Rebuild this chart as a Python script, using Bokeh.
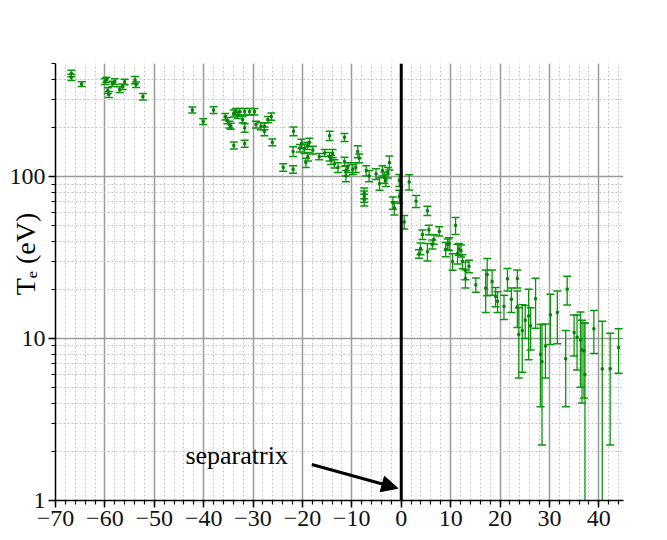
import numpy as np
from bokeh.plotting import figure
from bokeh.models import (ColumnDataSource, Whisker, TeeHead, Span, Label, Arrow,
                          NormalHead, FixedTicker, Range1d, BasicTickFormatter)
from bokeh.embed import file_html
from bokeh.resources import INLINE

# Radial position relative to the separatrix (mm) and electron temperature (eV)
r_mm = [
    -66.8, -66.8, -64.7, -60.0, -59.7, -59.4, -59.2, -58.5, -58.0, -57.0, -56.4, -56.0,
    -53.9, -53.7, -52.3,
    -42.3, -40.1, -38.0, -35.6, -35.2, -34.8, -34.5, -33.9, -33.9, -33.5, -33.1, -32.7,
    -32.1, -31.7, -31.7, -31.7, -30.7, -29.7, -29.4, -28.4, -27.7, -27.7, -27.0, -26.3,
    -26.1,
    -23.9, -21.9, -21.8, -21.9, -20.5, -20.2, -19.6, -19.3, -19.0, -18.9, -18.6, -17.9,
    -16.6, -15.5, -14.5, -14.5, -14.2, -13.9, -13.5, -12.8,
    -11.5, -11.5, -11.2, -11.2, -10.8, -9.8, -9.2, -8.8, -8.5, -7.5, -7.5, -7.5, -7.1,
    -6.5, -5.1, -4.4, -3.8, -3.4, -3.1, -2.7, -2.4, -1.7, -1.4, -0.4, -0.4,
    0.6, 1.6, 3.0, 3.6, 3.9, 4.3, 5.3, 5.3, 5.6, 6.3, 6.6, 7.7, 9.0, 9.4, 9.7, 10.4,
    11.0, 11.4, 11.7, 12.1, 12.4, 13.0, 13.0, 13.7, 15.1, 17.1, 17.4, 18.4, 19.1, 19.5,
    20.8, 21.5, 22.3, 23.5, 23.5, 23.8, 24.5, 25.1, 25.8, 26.2, 27.2, 28.2, 28.5, 29.2,
    30.2, 31.6, 33.3, 33.6, 35.0, 35.6, 36.3, 36.6, 37.0, 37.2, 39.0, 40.7, 42.3, 44.0,
]
te_ev = [
    434, 411, 373, 387, 396, 340, 322, 375, 387, 345, 360, 385,
    395, 370, 312,
    258, 219, 258, 235, 222, 210, 205, 246, 156, 252, 240, 252,
    225, 252, 200, 160, 252, 252, 210, 205, 205, 191, 225, 235,
    163,
    114, 111, 191, 143, 150, 160, 149, 122, 155, 133, 163, 146,
    133, 140, 179, 133, 127, 139, 120, 114,
    175, 124, 109, 101, 114, 111, 114, 143, 130, 79, 75.5, 72, 109,
    101, 104, 90.5, 109, 99, 95, 106, 122, 69, 64, 95, 75.5,
    52.5, 92.7, 70.6, 33.4, 36.0, 43.9, 61.6, 34.4, 47.0, 38.2, 41.0, 46.0, 35.6, 38.2, 38.5, 29.9,
    50.0, 33.6, 35.7, 34.9, 30.0, 26.4, 23.5, 28.0, 21.5, 20.5, 24.8, 22.5, 18.2, 17.0,
    15.8, 23.4, 17.5, 23.5, 15.7, 10.6, 11.2, 13.0, 13.8, 12.0, 17.6, 8.0, 7.2, 9.0,
    14.0, 14.5, 7.5, 20.2, 10.9, 10.2, 9.8, 8.5, 8.4, 6.0, 11.5, 6.5, 6.5, 8.8,
]
te_err = [
    20, 18, 13, 16, 15, 14, 14, 14, 15, 14, 14, 15,
    20, 14, 14,
    11, 9, 12, 11, 10, 10, 9, 12, 8, 12, 11, 12,
    10, 12, 12, 8, 12, 12, 10, 10, 10, 12, 10, 12,
    8,
    6, 6, 12, 10, 8, 10, 10, 8, 8, 8, 10, 8,
    6, 7, 12, 8, 8, 8, 7, 8,
    10, 8, 8, 8, 8, 8, 8, 12, 8, 6, 6, 6, 8,
    8, 8, 8, 8, 8, 8, 8, 12, 6, 6, 8, 7,
    5, 10, 6, 2, 3, 3, 4, 4.3, 3.2, 2.5, 2.8, 3, 3.6, 3, 3.5, 3.5,
    6, 4.7, 3, 3, 3, 3.3, 3, 2.5, 2.2, 6, 6.4, 4, 2.5, 2.5,
    2.7, 3.7, 3, 3, 4, 4.9, 5, 3, 6.4, 3.5, 6, 4.2, 5.0, 3.3,
    4.8, 5.2, 3.7, 4.1, 3.1, 3.8, 4.8, 4.5, 4.1, 6.5, 3.4, 6.3, 4.3, 2.7,
]

x_major = [-70, -60, -50, -40, -30, -20, -10, 0, 10, 20, 30, 40]
x_minor = list(range(-70, 46, 2))
y_major = [1, 10, 100]
y_minor = [2, 3, 4, 5, 6, 7, 8, 9, 20, 30, 40, 50, 60, 70, 80, 90, 200, 300, 400, 500]

GREEN = "#0a960a"
SERIF = "Liberation Serif"
NBSP = "\u00a0"

x = np.array(r_mm)
y = np.array(te_ev, dtype=float)
e = np.array(te_err, dtype=float)
src = ColumnDataSource(dict(x=x, y=y, upper=y + e, lower=np.maximum(y - e, 0.3)))

p = figure(width=667, height=540, x_range=Range1d(-70, 45), y_range=Range1d(1, 500),
           y_axis_type="log", output_backend="svg", toolbar_location=None,
           min_border_left=55, min_border_right=44, min_border_top=63, min_border_bottom=40)
p.outline_line_color = None
p.background_fill_color = "white"

# ticks and grids
xt = FixedTicker(ticks=x_major, minor_ticks=x_minor)
yt = FixedTicker(ticks=y_major, minor_ticks=y_minor)
p.xaxis.ticker = xt
p.yaxis.ticker = yt
p.xgrid.ticker = xt
p.ygrid.ticker = yt
p.yaxis.formatter = BasicTickFormatter()

for g in (p.xgrid, p.ygrid):
    g.grid_line_color = "#9a9a9a"
    g.grid_line_width = 1.5
    g.minor_grid_line_color = "#c4c4c4"
    g.minor_grid_line_dash = "2 2"
    g.minor_grid_line_width = 1

for ax in (p.xaxis, p.yaxis):
    ax.axis_line_color = "black"
    ax.axis_line_width = 1.5
    ax.major_tick_line_color = "black"
    ax.major_tick_line_width = 1.5
    ax.minor_tick_line_color = "black"
    ax.minor_tick_line_width = 1.2
    ax.major_tick_in = 0
    ax.major_tick_out = 7
    ax.minor_tick_in = 0
    ax.minor_tick_out = 4
    ax.major_label_text_font = SERIF
    ax.major_label_text_font_size = "24px"
    ax.major_label_text_color = "#111111"
    ax.major_label_standoff = 3

# y-axis title drawn over the tick-label band, nudged upward
p.yaxis.axis_label = NBSP * 8 + "T\u2091 (eV)"
p.yaxis.axis_label_text_font = SERIF
p.yaxis.axis_label_text_font_size = "28px"
p.yaxis.axis_label_text_font_style = "normal"
p.yaxis.axis_label_text_color = "black"
p.yaxis.axis_label_standoff = -34

# error bars with caps and the measured points
wh = Whisker(source=src, base="x", upper="upper", lower="lower", dimension="height",
             line_color=GREEN, line_width=1.3,
             upper_head=TeeHead(size=8, line_color=GREEN, line_width=1.5),
             lower_head=TeeHead(size=8, line_color=GREEN, line_width=1.5))
p.add_layout(wh)
p.scatter("x", "y", source=src, marker="square", size=2.2, color="#0a800a")

# separatrix position
p.add_layout(Span(location=0, dimension="height", line_color="black", line_width=3))

p.add_layout(Label(x=-43.7, y=1.89, text="separatrix", text_font=SERIF,
                   text_font_size="26px", text_color="black",
                   text_baseline="alphabetic", text_align="left"))
p.add_layout(Arrow(x_start=-18.1, y_start=1.67, x_end=-0.7, y_end=1.19,
                   line_color="black", line_width=3,
                   end=NormalHead(size=16, fill_color="black", line_color="black")))

open("out.html", "w").write(file_html(p, INLINE))
